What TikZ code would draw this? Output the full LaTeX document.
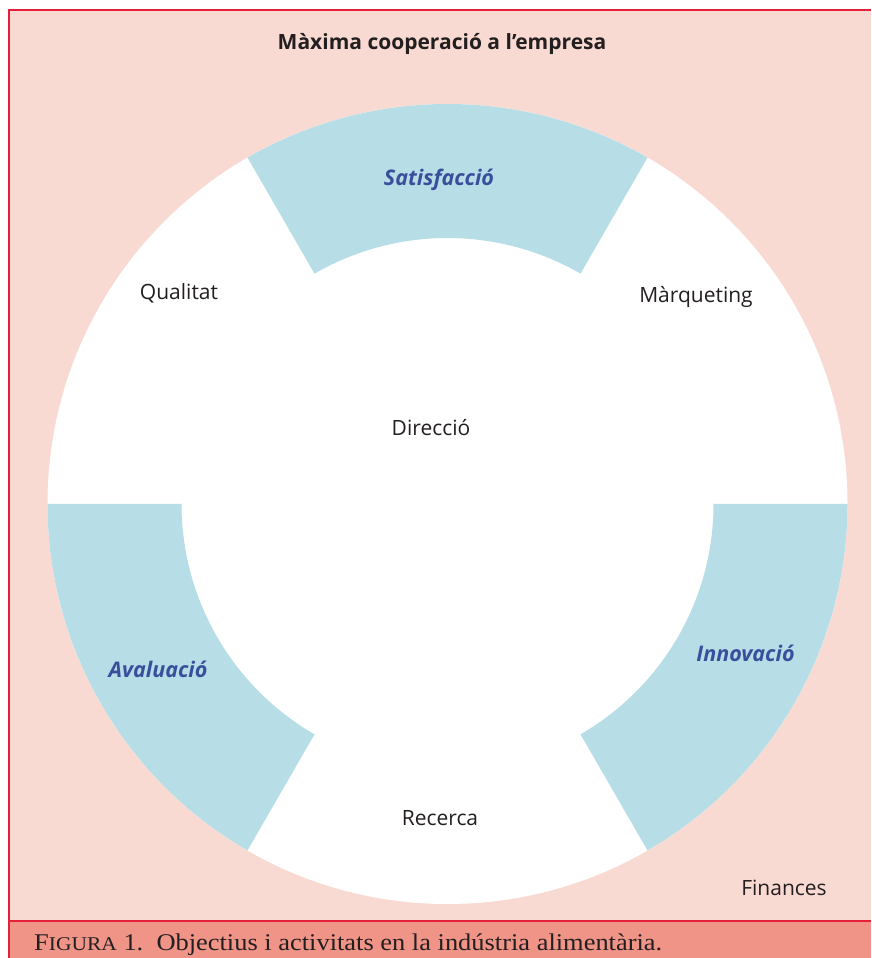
\documentclass[tikz,border=0pt]{standalone}
\usepackage{fontspec}
\usepackage{graphicx}
\newfontfamily\labelfont{Open Sans}
\newfontfamily\captionfont{Liberation Serif}
\definecolor{panelpink}{HTML}{F9DAD2}
\definecolor{bandsalmon}{HTML}{F09487}
\definecolor{framered}{HTML}{E5203A}
\definecolor{ringblue}{HTML}{B7DDE6}
\definecolor{labelblue}{HTML}{3A4F9C}
\definecolor{inkdark}{HTML}{231F20}
\tikzset{
  frameline/.style={draw=framered, line width=2pt},
  ringseg/.style={fill=ringblue},
  area/.style={font=\labelfont\fontsize{21}{24}\selectfont, text=inkdark, inner sep=0pt},
  goal/.style={font=\labelfont\bfseries\itshape\fontsize{21.5}{24}\selectfont, text=labelblue, inner sep=0pt},
  heading/.style={font=\labelfont\bfseries\fontsize{21}{24}\selectfont, text=inkdark, inner sep=0pt},
}
\begin{document}
\begin{tikzpicture}[x=1pt,y=1pt]
\useasboundingbox (0,0) rectangle (871,958);
\fill[white] (0,0) rectangle (871,958);
% panel and caption band
\fill[panelpink] (8.5,37) rectangle (871,947.5);
\fill[bandsalmon] (8.5,0) rectangle (871,37);
\draw[frameline] (8.5,0) -- (8.5,947.5) -- (871,947.5);
\draw[frameline] (8.5,37) -- (871,37);
% the ring
\begin{scope}[shift={(447.5,454)}]
  \fill[white] (0,0) circle[radius=400];
  \fill[ringseg] (60:400) arc[start angle=60,end angle=120,radius=400]
    -- (120:266) arc[start angle=120,end angle=60,radius=266] -- cycle;
  \fill[ringseg] (180:400) arc[start angle=180,end angle=240,radius=400]
    -- (240:266) arc[start angle=240,end angle=180,radius=266] -- cycle;
  \fill[ringseg] (0:400) arc[start angle=0,end angle=-60,radius=400]
    -- (-60:266) arc[start angle=-60,end angle=0,radius=266] -- cycle;
\end{scope}
% texts
\node[heading] (title) at (442,914) {Màxima cooperació a l’empresa};
\node[goal] (satisf) at (439,778) {Satisfacció};
\node[goal] (innov) at (745.5,305) {Innovació};
\node[goal] (aval) at (158,289) {Avaluació};
\node[area] (qual) at (179,665) {Qualitat};
\node[area] (marq) at (696,661) {Màrqueting};
\node[area] (dir) at (431,530) {Direcció};
\node[area] (rec) at (440,140) {Recerca};
\node[area] (fin) at (784,70) {Finances};
\node[anchor=base west, inner sep=0pt, text=inkdark, font=\captionfont] (cap) at (34,8)
  {\resizebox{628pt}{\height}{\fontsize{24}{28}\selectfont F{\fontsize{19.5}{22}\selectfont IGURA} 1.\ \ Objectius i activitats en la indústria alimentària.}};
\end{tikzpicture}
\end{document}
